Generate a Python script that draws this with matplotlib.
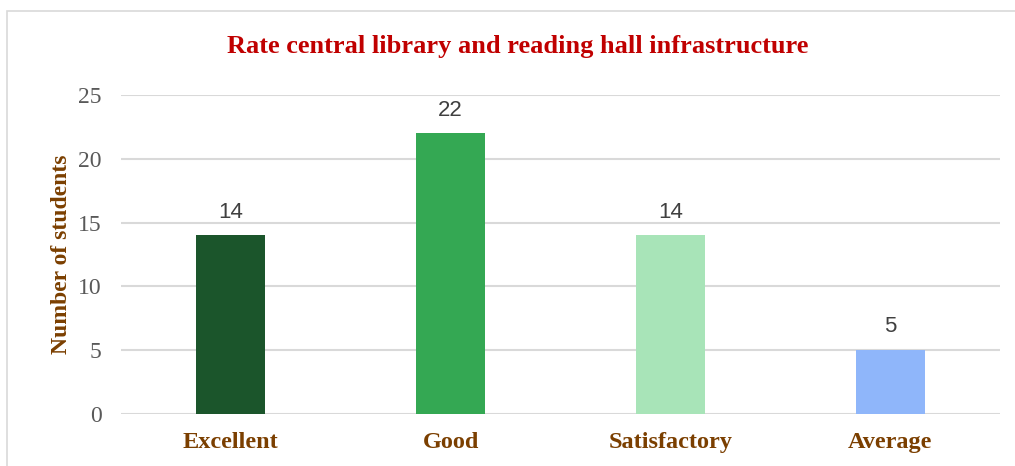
import matplotlib.pyplot as plt
from matplotlib.patches import Rectangle

categories = ['Excellent', 'Good', 'Satisfactory', 'Average']
counts = [14, 22, 14, 5]
bar_colors = ['#1B552B', '#34A853', '#A8E4B8', '#8FB6FA']
y_ticks = [0, 5, 10, 15, 20, 25]

fig = plt.figure(figsize=(10.15, 4.66), dpi=100)
ax = fig.add_axes([121 / 1015, 1 - 414 / 466, 879 / 1015, 319 / 466])

x = list(range(len(categories)))
bars = ax.bar(x, counts, width=0.315, color=bar_colors, zorder=3)

for xi, v in zip(x, counts):
    ax.text(xi, v + 1.0, str(v), ha='center', va='bottom',
            fontsize=16, color='#404040', family='Liberation Sans')

ax.set_xlim(-0.5, len(categories) - 0.5)
ax.set_ylim(0, 25)
ax.set_yticks(y_ticks)
ax.set_yticklabels([str(t) for t in y_ticks], family='Liberation Serif',
                   fontsize=17, color='#595959')
ax.set_xticks(x)
ax.set_xticklabels(categories, family='Liberation Serif', fontsize=17.5,
                   fontweight='bold', color='#7B3F00')
ax.tick_params(axis='both', length=0)
ax.tick_params(axis='y', pad=14)
ax.tick_params(axis='x', pad=13)
ax.grid(axis='y', color='#D9D9D9', linewidth=1.5, zorder=0)
for s in ax.spines.values():
    s.set_visible(False)

ax.set_ylabel('Number of students', family='Liberation Serif', fontsize=17,
              fontweight='bold', color='#7B3F00', labelpad=4)

fig.text(518 / 1015, 1 - 47 / 466, 'Rate central library and reading hall infrastructure',
         ha='center', va='center', family='Liberation Serif', fontsize=19,
         fontweight='bold', color='#C00000')

# outer chart border
fig.patches.append(Rectangle((7 / 1015, -0.01), 1.0, 1 - 11 / 466 + 0.01,
                             transform=fig.transFigure, fill=False,
                             edgecolor='#D9D9D9', linewidth=1.2))

fig.savefig('out.png', dpi=100)
